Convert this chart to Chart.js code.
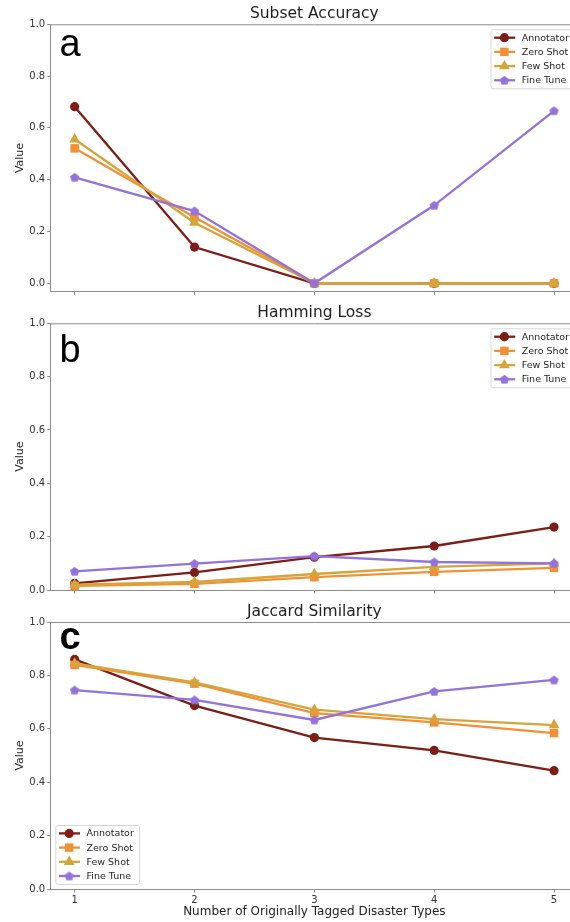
<!DOCTYPE html>
<html>
<head>
<meta charset="utf-8">
<script src="https://cdn.jsdelivr.net/npm/chart.js@4.4.1/dist/chart.umd.min.js"></script>
<style>
  html, body { margin: 0; padding: 0; background: #fff; }
  body { width: 570px; height: 922px; overflow: hidden; position: relative; }
  .panel { position: absolute; left: 0; }
</style>
</head>
<body>
<div class="panel" style="top:0px"><canvas id="chartA" width="600" height="300"></canvas></div>
<div class="panel" style="top:300px"><canvas id="chartB" width="600" height="300"></canvas></div>
<div class="panel" style="top:600px"><canvas id="chartC" width="600" height="322"></canvas></div>
<script>
// x categories + tick labels
const xValues = [1, 2, 3, 4, 5]
const yTicks  = [0, 0.2, 0.4, 0.6, 0.8, 1.0]
const seriesNames = ['Annotator', 'Zero Shot', 'Few Shot', 'Fine Tune']

// a - Subset Accuracy
const subsetAnnotator = [0.682, 0.140, 0.0, 0.0, 0.0]
const subsetZeroShot  = [0.521, 0.255, 0.0, 0.0, 0.0]
const subsetFewShot   = [0.556, 0.234, 0.0, 0.0, 0.0]
const subsetFineTune  = [0.409, 0.279, 0.0, 0.301, 0.666]

// b - Hamming Loss
const hammingAnnotator = [0.025, 0.066, 0.123, 0.165, 0.236]
const hammingZeroShot  = [0.016, 0.023, 0.048, 0.068, 0.083]
const hammingFewShot   = [0.020, 0.030, 0.060, 0.087, 0.100]
const hammingFineTune  = [0.070, 0.099, 0.127, 0.105, 0.100]

// c - Jaccard Similarity
const jaccardAnnotator = [0.860, 0.687, 0.567, 0.519, 0.443]
const jaccardZeroShot  = [0.839, 0.769, 0.659, 0.624, 0.584]
const jaccardFewShot   = [0.845, 0.774, 0.672, 0.636, 0.614]
const jaccardFineTune  = [0.745, 0.708, 0.633, 0.740, 0.783]

const FONT = "'DejaVu Sans', sans-serif"
const SPINE = '#8c8c8c'
const colors = ['#7d1d16', '#f39035', '#d6a53a', '#9472dc']
const markerRadius = [4.6, 6.0, 6.2, 0]

// pentagon marker for Fine Tune (no built-in style)
function makePentagon(color) {
	const c = document.createElement('canvas')
	c.width = 11; c.height = 11
	const g = c.getContext('2d')
	g.fillStyle = color
	g.beginPath()
	for (let i = 0; i < 5; i++) {
		const a = -Math.PI / 2 + i * 2 * Math.PI / 5
		const px = 5.5 + 4.9 * Math.cos(a), py = 5.9 + 4.9 * Math.sin(a)
		if (i === 0) g.moveTo(px, py); else g.lineTo(px, py)
	}
	g.closePath()
	g.fill()
	return c
}
const pentagon = makePentagon(colors[3])
const pointStyles = ['circle', 'rect', 'triangle', pentagon]

function drawMarker(ctx, i, x, y) {
	const r = markerRadius[i]
	ctx.save()
	ctx.fillStyle = colors[i]
	ctx.beginPath()
	if (i === 0) {
		ctx.arc(x, y, r, 0, Math.PI * 2)
	} else if (i === 1) {
		const s = r * Math.SQRT1_2
		ctx.rect(x - s, y - s, 2 * s, 2 * s)
	} else if (i === 2) {
		ctx.moveTo(x, y - r)
		ctx.lineTo(x + r * 0.866, y + r * 0.5)
		ctx.lineTo(x - r * 0.866, y + r * 0.5)
		ctx.closePath()
	} else {
		ctx.drawImage(pentagon, x - 5.5, y - 5.5)
	}
	ctx.fill()
	ctx.restore()
}

function makeDatasets(series) {
	return series.map((vals, i) => ({
		label: seriesNames[i],
		data: xValues.map((x, k) => ({ x: x, y: vals[k] })),
		borderColor: colors[i],
		backgroundColor: colors[i],
		borderWidth: 2.3,
		pointStyle: pointStyles[i],
		pointRadius: markerRadius[i] || 5,
		pointBorderWidth: 0,
		pointBackgroundColor: colors[i],
		pointBorderColor: colors[i],
		order: 4 - i,
		clip: false,
		tension: 0
	}))
}

// top + right spine
const framePlugin = {
	id: 'frame',
	afterDraw(chart) {
		const { ctx, chartArea: a } = chart
		ctx.save()
		ctx.strokeStyle = SPINE
		ctx.lineWidth = 1
		ctx.beginPath()
		ctx.moveTo(a.left, a.top + 0.5)
		ctx.lineTo(a.right, a.top + 0.5)
		ctx.moveTo(a.right - 0.5, a.top)
		ctx.lineTo(a.right - 0.5, a.bottom)
		ctx.stroke()
		ctx.restore()
	}
}

// title centred over the plot area, like matplotlib
function titlePlugin(text, cy) {
	return {
		id: 'axTitle',
		afterDraw(chart) {
			const { ctx, chartArea: a } = chart
			ctx.save()
			ctx.fillStyle = '#1e1e1e'
			ctx.font = '15.5px ' + FONT
			ctx.textAlign = 'center'
			ctx.textBaseline = 'middle'
			ctx.fillText(text, (a.left + a.right) / 2, cy)
			ctx.restore()
		}
	}
}

function letterPlugin(letter, bold, dy) {
	return {
		id: 'letter',
		afterDraw(chart) {
			const { ctx, chartArea: a } = chart
			ctx.save()
			ctx.fillStyle = '#000'
			ctx.font = (bold ? 'bold ' : '') + "38px 'Liberation Sans', Arial, sans-serif"
			ctx.textBaseline = 'alphabetic'
			ctx.fillText(letter, a.left + 8.8, a.top + dy)
			ctx.restore()
		}
	}
}

function legendPlugin(where) {
	return {
		id: 'mplLegend',
		afterDraw(chart) {
			const { ctx, chartArea: a } = chart
			const w = 83.7, h = 59
			const left = where === 'upper right' ? a.right - 87.5 : a.left + 4.6
			const top  = where === 'upper right' ? a.top + 5 : a.bottom - 5 - h
			ctx.save()
			ctx.fillStyle = 'rgba(255,255,255,0.85)'
			ctx.strokeStyle = '#d6d6d6'
			ctx.lineWidth = 1
			ctx.beginPath()
			ctx.roundRect(left + 0.5, top + 0.5, w, h, 2)
			ctx.fill()
			ctx.stroke()
			ctx.font = '9.5px ' + FONT
			ctx.textBaseline = 'middle'
			seriesNames.forEach((name, i) => {
				const y = top + 8.4 + i * 14.2
				ctx.strokeStyle = colors[i]
				ctx.lineWidth = 2.3
				ctx.beginPath()
				ctx.moveTo(left + 3.7, y)
				ctx.lineTo(left + 24.7, y)
				ctx.stroke()
				drawMarker(ctx, i, left + 13.9, y)
				ctx.fillStyle = '#262626'
				ctx.fillText(name, left + 31.2, y + 0.5)
			})
			ctx.restore()
		}
	}
}

function makePanel(id, opts) {
	const ctx = document.getElementById(id)
	return new Chart(ctx, {
		type: 'line',
		data: { datasets: makeDatasets(opts.series) },
		options: {
			responsive: false,
			animation: false,
			devicePixelRatio: 1,
			layout: { padding: { right: 22, left: 0, top: opts.topPad, bottom: 0 } },
			plugins: {
				legend: { display: false },
				tooltip: { enabled: false },
				title: { display: false }
			},
			scales: {
				x: {
					type: 'linear',
					min: 0.8,
					max: 5.2,
					afterBuildTicks: s => { s.ticks = xValues.map(v => ({ value: v })) },
					afterFit: s => { s.height = opts.xHeight },
					grid: { drawOnChartArea: false, color: SPINE, tickLength: 3.5 },
					border: { color: SPINE, width: 1 },
					ticks: {
						display: opts.showX,
						autoSkip: false,
						maxRotation: 0,
						padding: 1.5,
						color: '#333',
						font: { family: FONT, size: 10 },
						callback: v => String(v)
					},
					title: {
						display: opts.showX,
						text: 'Number of Originally Tagged Disaster Types',
						color: '#222',
						font: { family: FONT, size: 12 },
						padding: { top: 0, bottom: 2.5 }
					}
				},
				y: {
					min: opts.yMin,
					max: 1.0,
					afterBuildTicks: s => { s.ticks = yTicks.map(v => ({ value: v })) },
					afterFit: s => { s.width = 50.7 },
					grid: { drawOnChartArea: false, color: SPINE, tickLength: 3.5 },
					border: { color: SPINE, width: 1 },
					ticks: {
						padding: 2,
						color: '#333',
						font: { family: FONT, size: 10 },
						callback: v => v.toFixed(1)
					},
					title: {
						display: true,
						text: 'Value',
						color: '#222',
						font: { family: FONT, size: 11 },
						padding: { top: 14, bottom: 0 }
					}
				}
			}
		},
		plugins: [framePlugin, titlePlugin(opts.title, opts.titleY), letterPlugin(opts.letter, opts.bold, opts.letterDy), legendPlugin(opts.legend)]
	})
}

makePanel('chartA', {
	title: 'Subset Accuracy',
	titleY: 14,
	series: [subsetAnnotator, subsetZeroShot, subsetFewShot, subsetFineTune],
	topPad: 24.3,
	xHeight: 8.3,
	showX: false,
	yMin: -0.0325,
	letter: 'a', bold: false, letterDy: 32,
	legend: 'upper right'
})

makePanel('chartB', {
	title: 'Hamming Loss',
	titleY: 13,
	series: [hammingAnnotator, hammingZeroShot, hammingFewShot, hammingFineTune],
	topPad: 23.3,
	xHeight: 10,
	showX: false,
	yMin: 0,
	letter: 'b', bold: false, letterDy: 38.4,
	legend: 'upper right'
})

makePanel('chartC', {
	title: 'Jaccard Similarity',
	titleY: 12.2,
	series: [jaccardAnnotator, jaccardZeroShot, jaccardFewShot, jaccardFineTune],
	topPad: 22,
	xHeight: 33,
	showX: true,
	yMin: 0,
	letter: 'c', bold: true, letterDy: 27.3,
	legend: 'lower left'
})
</script>
</body>
</html>
